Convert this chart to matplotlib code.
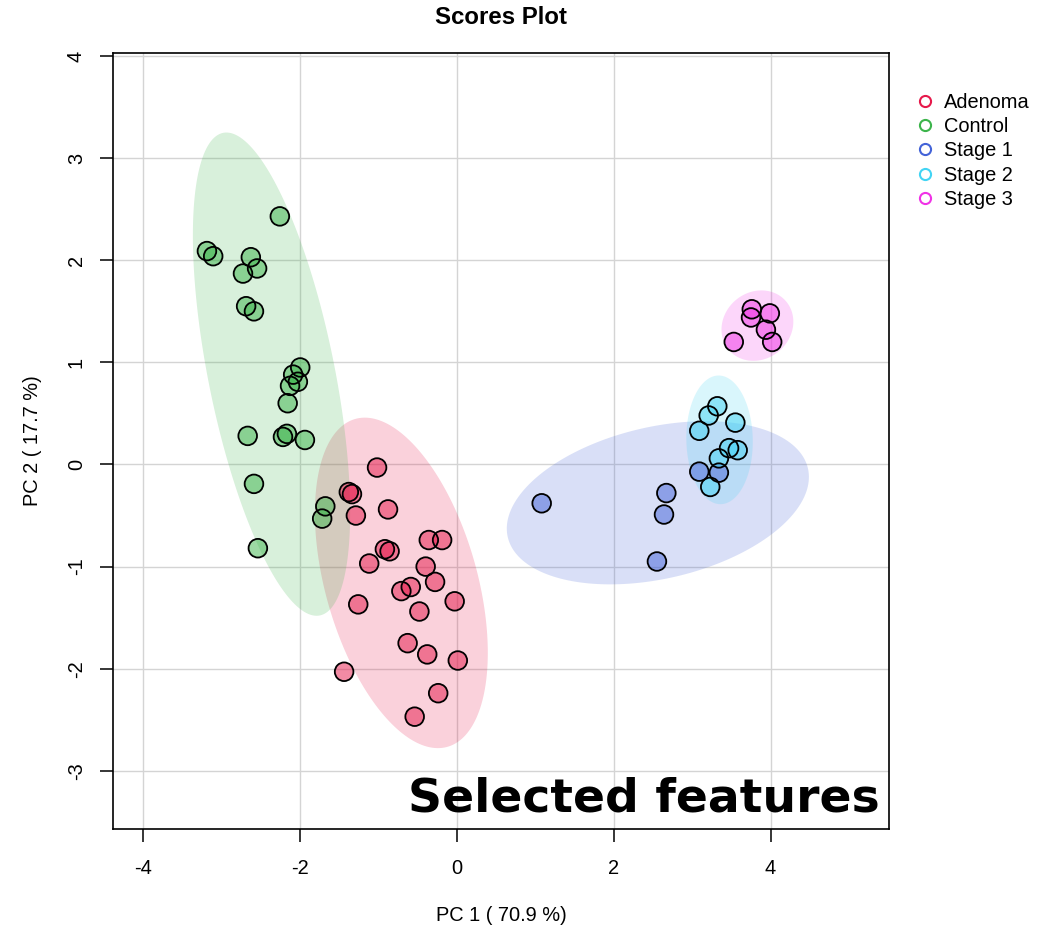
import numpy as np
import matplotlib
matplotlib.use("Agg")
import matplotlib.pyplot as plt

plt.rcParams['font.family'] = ['Liberation Sans', 'DejaVu Sans']

groups = ["Adenoma", "Control", "Stage 1", "Stage 2", "Stage 3"]
colors = ["#E6194B", "#3CB44B", "#4363D8", "#42D4F4", "#F032E6"]

adenoma_x = [-1.02, -1.38, -1.34, -0.88, -1.29, -0.36, -0.19, -0.92, -0.86, -1.12, -0.40,
             -0.28, -0.59, -0.71, -0.03, -1.26, -0.48, -0.63, -0.38, 0.01, -1.44, -0.24, -0.54]
adenoma_y = [-0.03, -0.27, -0.29, -0.44, -0.50, -0.74, -0.74, -0.83, -0.85, -0.97, -1.00,
             -1.15, -1.20, -1.24, -1.34, -1.37, -1.44, -1.75, -1.86, -1.92, -2.03, -2.24, -2.47]

control_x = [-2.26, -3.19, -3.11, -2.63, -2.55, -2.73, -2.69, -2.59, -2.00, -2.09, -2.03,
             -2.13, -2.16, -2.67, -2.22, -2.17, -1.94, -2.59, -1.68, -1.72, -2.54]
control_y = [2.43, 2.09, 2.04, 2.03, 1.92, 1.87, 1.55, 1.50, 0.95, 0.88, 0.81,
             0.77, 0.60, 0.28, 0.27, 0.30, 0.24, -0.19, -0.41, -0.53, -0.82]

stage1_x = [3.09, 3.34, 2.67, 2.64, 2.55, 1.08]
stage1_y = [-0.07, -0.08, -0.28, -0.49, -0.95, -0.38]

stage2_x = [3.32, 3.21, 3.55, 3.09, 3.47, 3.58, 3.34, 3.23]
stage2_y = [0.57, 0.48, 0.41, 0.33, 0.16, 0.14, 0.06, -0.22]

stage3_x = [3.76, 3.75, 3.99, 3.94, 4.02, 3.53]
stage3_y = [1.52, 1.44, 1.48, 1.32, 1.20, 1.20]

xs = [adenoma_x, control_x, stage1_x, stage2_x, stage3_x]
ys = [adenoma_y, control_y, stage1_y, stage2_y, stage3_y]

x_ticks = [-4, -2, 0, 2, 4]
y_ticks = [-3, -2, -1, 0, 1, 2, 3, 4]

W, H = 1061, 930
fig = plt.figure(figsize=(W / 100, H / 100), dpi=100)
L, R, T, B = 113, 889, 53, 829
ax = fig.add_axes([L / W, 1 - B / H, (R - L) / W, (B - T) / H])

ax.set_xlim(-4.388, 5.51)
ax.set_ylim(-3.57, 4.03)

# grid
for t in x_ticks:
    ax.axvline(t, color="#d4d4d4", lw=1.0, zorder=0)
for t in y_ticks:
    ax.axhline(t, color="#d4d4d4", lw=1.0, zorder=0)

# 95% confidence ellipses
chi = np.sqrt(5.991)
theta = np.linspace(0, 2 * np.pi, 200)
for gx, gy, c in zip(xs, ys, colors):
    pts = np.column_stack([gx, gy])
    mu = pts.mean(axis=0)
    cov = np.cov(pts, rowvar=False)
    vals, vecs = np.linalg.eigh(cov)
    circ = np.column_stack([np.cos(theta), np.sin(theta)])
    ell = circ * (chi * np.sqrt(vals)) @ vecs.T + mu
    ax.fill(ell[:, 0], ell[:, 1], color=c, alpha=0.2, lw=0, zorder=1)

# points
for gx, gy, c in zip(xs, ys, colors):
    ax.scatter(gx, gy, s=180, facecolor=c, alpha=0.5, edgecolor="none", zorder=2)
    ax.scatter(gx, gy, s=180, facecolor="none", edgecolor="black", linewidth=1.3, zorder=3)

ax.set_xticks(x_ticks)
ax.set_yticks(y_ticks)
ax.set_xticklabels([str(t) for t in x_ticks])
ax.set_yticklabels([str(t) for t in y_ticks], rotation=90, va="center")
ax.tick_params(axis="both", direction="out", length=9.5, width=1.1, labelsize=14.4, color="black")
ax.tick_params(axis="x", pad=12)
ax.tick_params(axis="y", pad=10)
for sp in ax.spines.values():
    sp.set_linewidth(1.2)

ax.text(0.9885, 0.022, "Selected features", transform=ax.transAxes, ha="right", va="baseline",
        fontsize=34, fontweight="bold", family="DejaVu Sans", zorder=5)

fig.text((L + R) / 2 / W, 1 - 17 / H, "Scores Plot", ha="center", va="center",
         fontsize=17.3, fontweight="bold")
fig.text((L + R) / 2 / W, 1 - 915 / H, "PC 1 ( 70.9 %)", ha="center", va="center", fontsize=14.4)
fig.text(33 / W, 1 - (T + B) / 2 / H, "PC 2 ( 17.7 %)", ha="center", va="center",
         rotation=90, fontsize=14.4)

# legend
for i, (g, c) in enumerate(zip(groups, colors)):
    yy = 1 - (101 + 24.2 * i) / H
    fig.lines.append(matplotlib.lines.Line2D([925 / W], [yy], transform=fig.transFigure,
                                             marker="o", markersize=8, markerfacecolor="none",
                                             markeredgecolor=c, markeredgewidth=1.5, ls="none"))
    fig.text(944 / W, yy - 1.5 / H, g, ha="left", va="center", fontsize=14.4)

fig.savefig("out.png", dpi=100)
